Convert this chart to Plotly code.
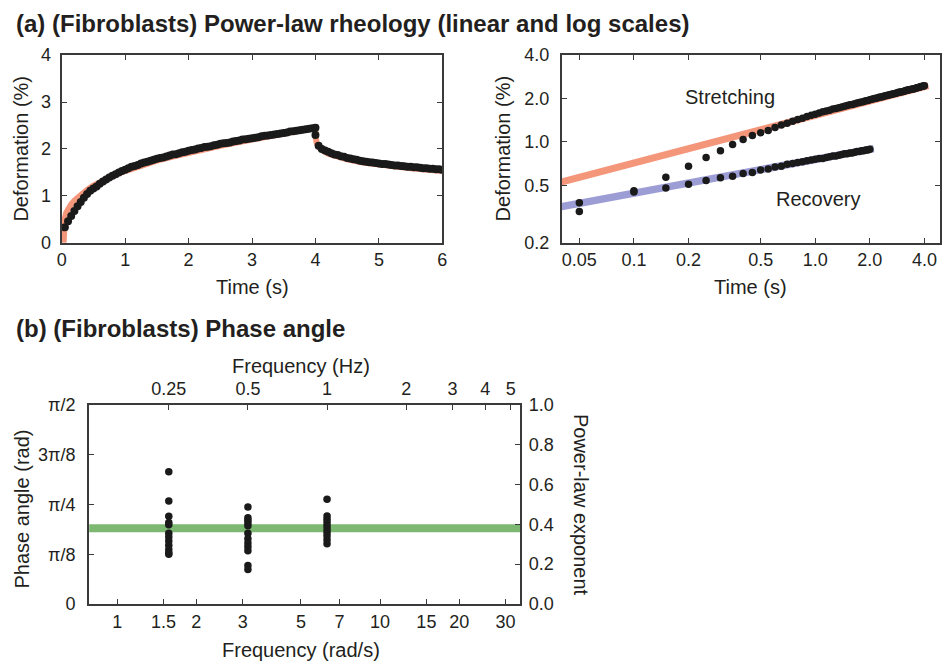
import numpy as np
import plotly.graph_objects as go

# ---------------- (a) creep / recovery data ----------------
DT = 0.05  # sampling interval (s)

# deformation (%) during stretching, t = 0.05 ... 4.00 s
stretch_def = [
    0.33, 0.46, 0.57, 0.68, 0.78, 0.87, 0.96, 1.04, 1.11, 1.16,
    1.20, 1.26, 1.31, 1.35, 1.39, 1.43, 1.46, 1.50, 1.53, 1.56,
    1.59, 1.62, 1.64, 1.66, 1.69, 1.71, 1.73, 1.75, 1.77, 1.79,
    1.81, 1.82, 1.84, 1.86, 1.88, 1.89, 1.91, 1.93, 1.94, 1.96,
    1.98, 1.99, 2.01, 2.02, 2.04, 2.05, 2.06, 2.08, 2.09, 2.11,
    2.12, 2.13, 2.14, 2.16, 2.17, 2.18, 2.20, 2.21, 2.22, 2.23,
    2.24, 2.25, 2.27, 2.28, 2.29, 2.30, 2.31, 2.32, 2.33, 2.34,
    2.35, 2.37, 2.38, 2.39, 2.40, 2.41, 2.42, 2.43, 2.44, 2.45,
]
# deformation (%) after release, t = 4.00 ... 6.00 s
recovery_def = [
    2.30, 2.07, 2.00, 1.97, 1.94, 1.91, 1.885, 1.87, 1.845, 1.835,
    1.81, 1.80, 1.78, 1.77, 1.75, 1.74, 1.73, 1.72, 1.71, 1.70,
    1.69, 1.68, 1.68, 1.67, 1.66, 1.65, 1.65, 1.64, 1.63, 1.62,
    1.62, 1.61, 1.61, 1.60, 1.59, 1.59, 1.58, 1.58, 1.57, 1.57,
    1.56,
]
t_release = 4.0

# power-law fit of the whole curve (linear axes)
fit_t = [0.03, 0.035, 0.04, 0.05, 0.07, 0.10, 0.15, 0.20, 0.30, 0.40,
         0.50, 0.60, 0.70, 0.85, 1.00, 1.25, 1.50, 1.75, 2.00, 2.50,
         3.00, 3.50, 4.00,
         4.001, 4.005, 4.01, 4.02, 4.05, 4.10, 4.20, 4.30, 4.50, 4.75,
         5.00, 5.50, 6.00]
fit_def = [0.00, 0.25, 0.40, 0.52, 0.64, 0.73, 0.82, 0.90, 1.03, 1.13,
           1.22, 1.29, 1.36, 1.45, 1.53, 1.65, 1.75, 1.84, 1.92, 2.07,
           2.20, 2.31, 2.45,
           2.27, 2.20, 2.16, 2.12, 2.045, 1.98, 1.90, 1.85, 1.78, 1.71,
           1.66, 1.59, 1.53]

# straight power-law fits on log-log axes (end points)
stretch_fit_t = [0.035, 4.2]
stretch_fit_def = [0.506, 2.457]
recovery_fit_t = [0.035, 2.1]
recovery_fit_def = [0.346, 0.90]

# ---------------- (b) phase angle data ----------------
freq_hz = [0.25, 0.5, 1.0]
phase_groups = [  # phase angle (rad)
    [1.043, 0.811, 0.691, 0.642, 0.624, 0.558, 0.528, 0.496, 0.463, 0.430, 0.405, 0.393],
    [0.765, 0.680, 0.660, 0.639, 0.616, 0.558, 0.514, 0.481, 0.451, 0.419, 0.303, 0.272],
    [0.825, 0.693, 0.668, 0.642, 0.616, 0.591, 0.565, 0.539, 0.506, 0.476],
]
power_law_exponent = 0.38

rad_ticks = [1, 1.5, 2, 3, 5, 7, 10, 15, 20, 30]
hz_ticks = [0.25, 0.5, 1, 2, 3, 4, 5]
phase_ticks = [0, np.pi / 8, np.pi / 4, 3 * np.pi / 8, np.pi / 2]
phase_labels = ["0", "π/8", "π/4", "3π/8", "π/2"]

# ---------------- derived series ----------------
t_stretch = np.round(np.arange(1, len(stretch_def) + 1) * DT, 3)
t_recovery = np.round(t_release + np.arange(len(recovery_def)) * DT, 3)
tau = np.round(np.arange(1, len(recovery_def)) * DT, 3)
recovered = stretch_def[-1] - np.array(recovery_def[1:])

W, H = 948, 672
FONT = "Liberation Sans"
TXT = "#231f20"
AX = "#3a3a3a"
DOT = "#1a1a1a"
ORANGE = "#f4967a"
BLUE = "#9d9dd6"
GREEN = "#7cb872"


def px(x):
    return x / W


def py(y):
    return 1 - y / H


fig = go.Figure()

# (a) linear scales
fig.add_trace(go.Scatter(x=fit_t, y=fit_def, mode="lines",
                         line=dict(color=ORANGE, width=6), xaxis="x", yaxis="y"))
fig.add_trace(go.Scatter(x=t_stretch, y=stretch_def, mode="markers",
                         marker=dict(color=DOT, size=8), xaxis="x", yaxis="y"))
fig.add_trace(go.Scatter(x=t_recovery, y=recovery_def, mode="markers",
                         marker=dict(color=DOT, size=8), xaxis="x", yaxis="y"))

# (a) log scales
fig.add_trace(go.Scatter(x=stretch_fit_t, y=stretch_fit_def, mode="lines",
                         line=dict(color=ORANGE, width=7), xaxis="x2", yaxis="y2"))
fig.add_trace(go.Scatter(x=recovery_fit_t, y=recovery_fit_def, mode="lines",
                         line=dict(color=BLUE, width=7.5), xaxis="x2", yaxis="y2"))
fig.add_trace(go.Scatter(x=t_stretch, y=stretch_def, mode="markers",
                         marker=dict(color=DOT, size=7.5), xaxis="x2", yaxis="y2"))
fig.add_trace(go.Scatter(x=tau, y=recovered, mode="markers",
                         marker=dict(color=DOT, size=7.5), xaxis="x2", yaxis="y2"))

# (b) power-law exponent band (phase = exponent * pi/2) on the rad/s axes
x3_range = [-0.107, 1.533]
fig.add_trace(go.Scatter(x=[10 ** x3_range[0], 10 ** x3_range[1]],
                         y=[power_law_exponent * np.pi / 2] * 2, mode="lines",
                         line=dict(color=GREEN, width=8), xaxis="x3", yaxis="y3"))
# measured phase angles on the Hz / exponent axes (drawn above the band)
for f, grp in zip(freq_hz, phase_groups):
    fig.add_trace(go.Scatter(x=[f] * len(grp), y=np.array(grp) / (np.pi / 2),
                             mode="markers", marker=dict(color=DOT, size=7.5),
                             xaxis="x4", yaxis="y4"))

axis_common = dict(showline=True, linecolor=AX, linewidth=2, ticks="inside",
                   ticklen=5, tickwidth=1.2, tickcolor=AX, showgrid=False,
                   zeroline=False, tickfont=dict(family=FONT, size=18, color=TXT))

y_top = [py(240), py(46.5)]
two_pi = 2 * np.pi

fig.update_layout(
    width=W, height=H,
    margin=dict(l=0, r=0, t=0, b=0),
    paper_bgcolor="white", plot_bgcolor="white",
    showlegend=False,
    font=dict(family=FONT, color=TXT),
    xaxis=dict(domain=[px(57.3), px(442)], range=[0, 6], anchor="y",
               tickvals=[0, 1, 2, 3, 4, 5, 6], mirror="ticks", **axis_common),
    yaxis=dict(domain=y_top, range=[0, 4], anchor="x", ticklabelstandoff=5,
               tickvals=[0, 1, 2, 3, 4], mirror="ticks", **axis_common),
    xaxis2=dict(domain=[px(562.7), px(945)], type="log", range=[np.log10(0.04), 0.688],
                anchor="y2", tickvals=[0.05, 0.1, 0.2, 0.5, 1, 2, 4],
                ticktext=["0.05", "0.1", "0.2", "0.5", "1.0", "2.0", "4.0"],
                mirror="ticks", **axis_common),
    yaxis2=dict(domain=y_top, type="log", range=[np.log10(0.2), np.log10(4)],
                anchor="x2", tickvals=[0.2, 0.5, 1, 2, 4], ticklabelstandoff=7,
                ticktext=["0.2", "0.5", "1.0", "2.0", "4.0"],
                mirror="ticks", **axis_common),
    xaxis3=dict(domain=[px(85), px(520.7)], type="log", range=x3_range, anchor="y3",
                tickvals=rad_ticks, ticktext=[str(v) for v in rad_ticks], **axis_common),
    yaxis3=dict(domain=[py(612.3), py(406.7)], range=[0, np.pi / 2], anchor="x3",
                tickvals=phase_ticks, ticktext=phase_labels, ticklabelstandoff=8,
                **axis_common),
    xaxis4=dict(type="log", overlaying="x3", side="top", anchor="y3",
                range=[x3_range[0] - np.log10(two_pi), x3_range[1] - np.log10(two_pi)],
                tickvals=hz_ticks, ticktext=[str(v) for v in hz_ticks], **axis_common),
    yaxis4=dict(overlaying="y3", side="right", anchor="x3", range=[0, 1],
                tickvals=[0, 0.2, 0.4, 0.6, 0.8, 1.0], tickformat=".1f",
                ticklabelstandoff=3, **axis_common),
)

title_font = dict(family=FONT, size=24, color=TXT)
label_font = dict(family=FONT, size=20, color=TXT)


def note(text, x, y, font, angle=0, xanchor="center"):
    fig.add_annotation(text=text, x=px(x), y=py(y), xref="paper", yref="paper",
                       showarrow=False, font=font, textangle=angle,
                       xanchor=xanchor, yanchor="middle")


note("<b>(a) (Fibroblasts) Power-law rheology (linear and log scales)</b>", 9, 14,
     title_font, xanchor="left")
note("<b>(b) (Fibroblasts) Phase angle</b>", 9, 328, title_font, xanchor="left")

note("Deformation (%)", 16, 143, label_font, angle=-90)
note("Time (s)", 250, 286, label_font)
note("Deformation (%)", 503, 143, label_font, angle=-90)
note("Time (s)", 753, 286, label_font)
note("Stretching", 733, 90, label_font)
note("Recovery", 822, 195, label_font)

note("Phase angle (rad)", 17, 514, label_font, angle=-90)
note("Power-law exponent", 582, 510, label_font, angle=90)
note("Frequency (Hz)", 299, 367, label_font)
note("Frequency (rad/s)", 299, 660, label_font)

fig.write_html("out.html")
